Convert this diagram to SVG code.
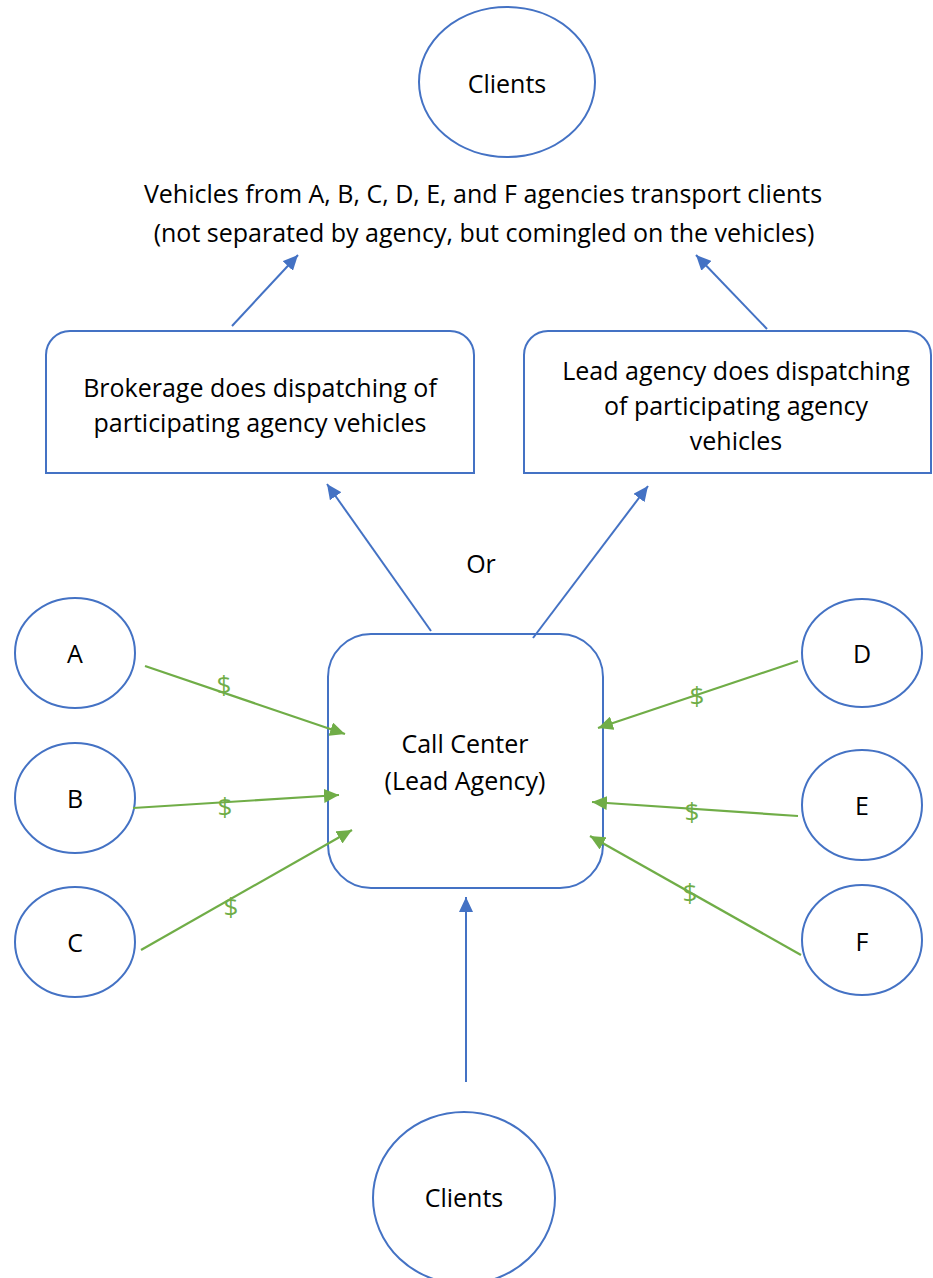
<svg xmlns="http://www.w3.org/2000/svg" width="933" height="1278" viewBox="0 0 933 1278">
<style>
  .shape { fill: #ffffff; stroke: #4472C4; stroke-width: 2; }
  .t { font-family: "Open Sans", "Noto Sans", sans-serif; font-size: 25px; fill: #000000; text-anchor: middle; }
  .money { font-family: "Open Sans", "Noto Sans", sans-serif; font-size: 26px; fill: #70AD47; text-anchor: middle; }
  .blue { stroke: #4472C4; stroke-width: 2; fill: none; }
  .green { stroke: #70AD47; stroke-width: 2.2; fill: none; }
</style>
<defs>
  <marker id="ab" viewBox="0 0 15 14" refX="15" refY="7" markerWidth="15" markerHeight="14" markerUnits="userSpaceOnUse" orient="auto">
    <path d="M0,0 L15,7 L0,14 Z" fill="#4472C4"/>
  </marker>
  <marker id="ag" viewBox="0 0 15 14" refX="15" refY="7" markerWidth="15" markerHeight="14" markerUnits="userSpaceOnUse" orient="auto">
    <path d="M0,0 L15,7 L0,14 Z" fill="#70AD47"/>
  </marker>
</defs>
<rect width="933" height="1278" fill="#ffffff"/>

<g id="clients-top">
  <ellipse class="shape" cx="507" cy="82" rx="88" ry="75"/>
  <text class="t" x="507" y="93">Clients</text>
</g>

<g id="vehicles-text">
  <text class="t" x="483" y="203">Vehicles from A, B, C, D, E, and F agencies transport clients</text>
  <text class="t" x="484" y="242">(not separated by agency, but comingled on the vehicles)</text>
</g>

<g id="brokerage">
  <path class="shape" d="M46,473 V355 A24,24 0 0 1 70,331 H450 A24,24 0 0 1 474,355 V473 Z"/>
  <text class="t" x="260" y="397">Brokerage does dispatching of</text>
  <text class="t" x="260" y="432">participating agency vehicles</text>
</g>

<g id="lead-dispatch">
  <path class="shape" d="M524,473 V355 A24,24 0 0 1 548,331 H907 A24,24 0 0 1 931,355 V473 Z"/>
  <text class="t" x="736" y="380">Lead agency does dispatching</text>
  <text class="t" x="736" y="415">of participating agency</text>
  <text class="t" x="736" y="450">vehicles</text>
</g>

<g id="or-label">
  <text class="t" x="481" y="573">Or</text>
</g>

<g id="call-center">
  <rect class="shape" x="328" y="634" width="275" height="254" rx="43" ry="43"/>
  <text class="t" x="465" y="753">Call Center</text>
  <text class="t" x="465" y="790">(Lead Agency)</text>
</g>

<g id="agency-a">
  <ellipse class="shape" cx="75" cy="653" rx="60" ry="55"/>
  <text class="t" x="75" y="663">A</text>
</g>
<g id="agency-b">
  <ellipse class="shape" cx="75" cy="798" rx="60" ry="55"/>
  <text class="t" x="75" y="808">B</text>
</g>
<g id="agency-c">
  <ellipse class="shape" cx="75" cy="942" rx="60" ry="55"/>
  <text class="t" x="75" y="952">C</text>
</g>
<g id="agency-d">
  <ellipse class="shape" cx="862" cy="653" rx="60" ry="54"/>
  <text class="t" x="862" y="663">D</text>
</g>
<g id="agency-e">
  <ellipse class="shape" cx="862" cy="805" rx="60" ry="55"/>
  <text class="t" x="862" y="815">E</text>
</g>
<g id="agency-f">
  <ellipse class="shape" cx="862" cy="940" rx="60" ry="55"/>
  <text class="t" x="862" y="951">F</text>
</g>

<g id="clients-bottom">
  <ellipse class="shape" cx="464" cy="1198" rx="91" ry="86"/>
  <text class="t" x="464" y="1207">Clients</text>
</g>

<g id="connectors">
  <line class="blue" x1="232" y1="326" x2="298" y2="255" marker-end="url(#ab)"/>
  <line class="blue" x1="767" y1="329" x2="696" y2="255" marker-end="url(#ab)"/>
  <line class="blue" x1="431" y1="631" x2="327" y2="484" marker-end="url(#ab)"/>
  <line class="blue" x1="533" y1="638" x2="648" y2="486" marker-end="url(#ab)"/>
  <line class="blue" x1="466" y1="1082" x2="466" y2="897" marker-end="url(#ab)"/>

  <line class="green" x1="145" y1="666" x2="345" y2="734" marker-end="url(#ag)"/>
  <line class="green" x1="133" y1="808" x2="339" y2="795" marker-end="url(#ag)"/>
  <line class="green" x1="141" y1="950" x2="352" y2="830" marker-end="url(#ag)"/>
  <line class="green" x1="798" y1="661" x2="598" y2="728" marker-end="url(#ag)"/>
  <line class="green" x1="798" y1="816" x2="592" y2="802" marker-end="url(#ag)"/>
  <line class="green" x1="801" y1="955" x2="590" y2="836" marker-end="url(#ag)"/>

  <text class="money" x="224" y="694">$</text>
  <text class="money" x="225" y="816">$</text>
  <text class="money" x="231" y="916">$</text>
  <text class="money" x="697" y="705">$</text>
  <text class="money" x="692" y="821">$</text>
  <text class="money" x="690" y="902">$</text>
</g>
</svg>
